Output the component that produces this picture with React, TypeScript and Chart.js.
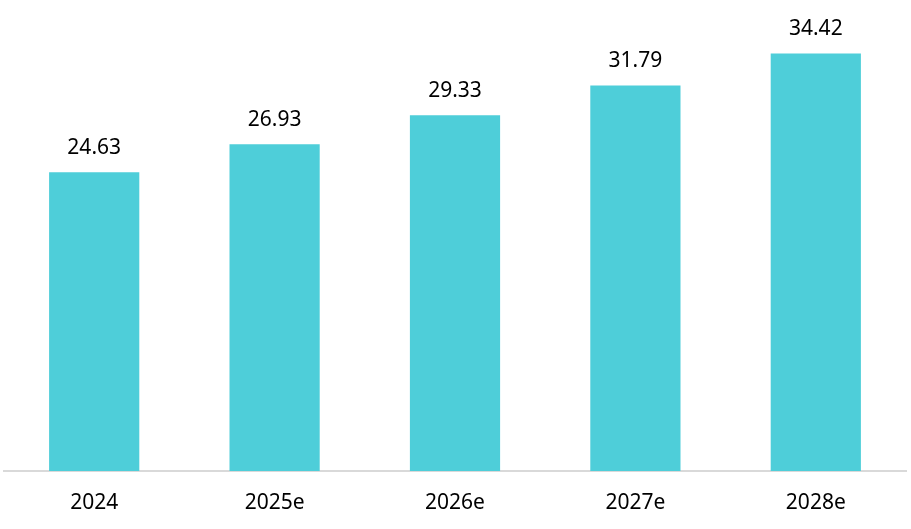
import React, { useEffect, useRef } from 'react';
import { Chart, ChartConfiguration, registerables, Plugin } from 'chart.js';

Chart.register(...registerables);

const years = ['2024', '2025e', '2026e', '2027e', '2028e'];
const values = [24.63, 26.93, 29.33, 31.79, 34.42];

const BAR_COLOR = '#4ECED9';
const FONT = '"Noto Sans", "Open Sans", sans-serif';

// draws the value above every bar
const valueLabels: Plugin<'bar'> = {
  id: 'valueLabels',
  afterDatasetsDraw(chart) {
    const { ctx } = chart;
    const meta = chart.getDatasetMeta(0);
    ctx.save();
    ctx.font = `21px ${FONT}`;
    ctx.fillStyle = '#000';
    ctx.textAlign = 'center';
    ctx.textBaseline = 'alphabetic';
    meta.data.forEach((bar, i) => {
      ctx.fillText(values[i].toFixed(2), bar.x, bar.y - 18);
    });
    ctx.restore();
  },
};

export default function App() {
  const canvasRef = useRef<HTMLCanvasElement>(null);

  useEffect(() => {
    if (!canvasRef.current) return;
    const ctx = canvasRef.current.getContext('2d');
    if (!ctx) return;

    const config: ChartConfiguration<'bar'> = {
      type: 'bar',
      data: {
        labels: years,
        datasets: [{
          data: values,
          backgroundColor: BAR_COLOR,
          borderWidth: 0,
          categoryPercentage: 1,
          barPercentage: 0.5,
        }],
      },
      options: {
        responsive: false,
        maintainAspectRatio: false,
        animation: false,
        layout: {
          padding: { left: 4, right: 5, top: 0, bottom: 0 },
        },
        plugins: {
          legend: { display: false },
          tooltip: { enabled: false },
        },
        scales: {
          x: {
            grid: { display: false, drawTicks: false },
            border: { display: true, color: '#d9d9d9', width: 2 },
            ticks: {
              color: '#000',
              padding: 19,
              font: { family: FONT, size: 21 },
              maxRotation: 0,
            },
            afterFit: (scale) => {
              scale.height = 58;
            },
          },
          y: {
            display: false,
            min: 0,
            max: 38.83,
          },
        },
      },
      plugins: [valueLabels],
    };

    const chart = new Chart(ctx, config);
    return () => chart.destroy();
  }, []);

  return (
    <div style={{ position: 'absolute', left: 0, top: 0, width: 911, height: 529, background: '#fff' }}>
      <canvas ref={canvasRef} width={911} height={529} style={{ width: '911px', height: '529px' }} />
    </div>
  );
}
